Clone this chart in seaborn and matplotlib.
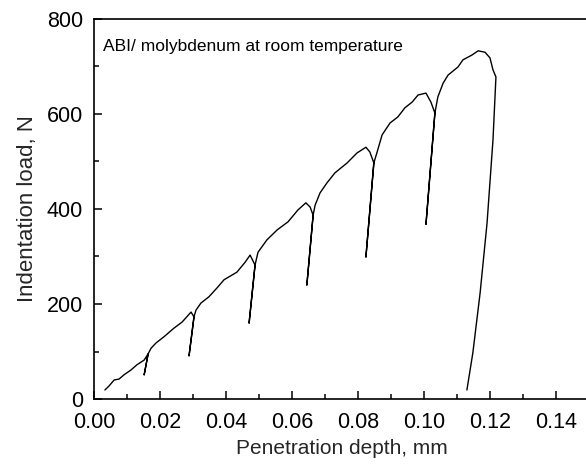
import matplotlib
matplotlib.use("Agg")
import matplotlib.pyplot as plt
from matplotlib.ticker import MultipleLocator, FormatStrFormatter
import pandas as pd
import seaborn as sns

# Load-depth record of a ball indentation test with repeated partial unloading
depth_mm = [
    0.0033, 0.0045, 0.0061, 0.0076, 0.0091, 0.0112, 0.0130, 0.0152, 0.0164,
    0.0152, 0.0164,
    0.0173, 0.0188, 0.0212, 0.0242, 0.0267, 0.0294, 0.0303,
    0.0288, 0.0303,
    0.0309, 0.0324, 0.0348, 0.0373, 0.0394, 0.0433, 0.0458, 0.0473, 0.0488,
    0.0470, 0.0488,
    0.0497, 0.0524, 0.0555, 0.0588, 0.0618, 0.0642, 0.0655, 0.0664,
    0.0645, 0.0664,
    0.0670, 0.0685, 0.0706, 0.0730, 0.0767, 0.0797, 0.0824, 0.0836, 0.0848,
    0.0824, 0.0848,
    0.0858, 0.0873, 0.0897, 0.0921, 0.0942, 0.0964, 0.0982, 0.1006, 0.1021, 0.1033,
    0.1006, 0.1033,
    0.1042, 0.1058, 0.1073, 0.1103, 0.1118, 0.1145, 0.1164, 0.1185, 0.1200,
    0.1209, 0.1218,
    0.1209, 0.1191, 0.1170, 0.1148, 0.1130,
]
load_N = [
    19, 27, 40, 42, 51, 61, 72, 82, 95,
    51, 95,
    107, 118, 131, 149, 162, 183, 173,
    91, 173,
    187, 202, 215, 234, 251, 267, 288, 303, 282,
    160, 282,
    309, 335, 356, 373, 398, 413, 404, 387,
    240, 387,
    408, 434, 455, 476, 497, 518, 530, 520, 497,
    299, 497,
    520, 556, 581, 594, 613, 625, 640, 644, 625, 602,
    368, 602,
    636, 665, 682, 699, 714, 724, 733, 730, 718,
    693, 678,
    545, 370, 223, 97, 19,
]

x_ticks = [0.00, 0.02, 0.04, 0.06, 0.08, 0.10, 0.12, 0.14]
y_ticks = [0, 200, 400, 600, 800]

sns.set_style("ticks")
plt.rcParams["font.family"] = ["Liberation Sans", "DejaVu Sans"]

df = pd.DataFrame({"depth": depth_mm, "load": load_N})

W, H = 586, 465
fig = plt.figure(figsize=(W / 100, H / 100), dpi=100)
ax = fig.add_axes([94 / W, (H - 399) / H, (589 - 94) / W, (399 - 19) / H])

sns.lineplot(data=df, x="depth", y="load", sort=False, estimator=None,
             color="black", linewidth=1.0, ax=ax)

ax.set_xlim(0, 0.15)
ax.set_ylim(0, 800)
ax.set_xticks(x_ticks)
ax.set_yticks(y_ticks)
ax.xaxis.set_major_formatter(FormatStrFormatter("%.2f"))
ax.xaxis.set_minor_locator(MultipleLocator(0.01))
ax.yaxis.set_minor_locator(MultipleLocator(100))

for side in ["left", "bottom", "top", "right"]:
    ax.spines[side].set_visible(True)
    ax.spines[side].set_linewidth(1.2)
    ax.spines[side].set_color("black")

ax.tick_params(which="both", direction="in", top=False, right=False,
               colors="black", width=1.1)
ax.tick_params(which="major", length=6, labelsize=15.5)
ax.tick_params(which="minor", length=3.5)
ax.tick_params(axis="y", which="major", pad=8)
ax.tick_params(axis="x", which="major", pad=9)

ax.set_xlabel("Penetration depth, mm", fontsize=15, labelpad=5)
ax.set_ylabel("Indentation load, N", fontsize=16, labelpad=6)

ax.text(0.0027, 743, "ABI/ molybdenum at room temperature",
        fontsize=12.5, ha="left", va="center", color="black")

fig.savefig("out.png", dpi=100)
